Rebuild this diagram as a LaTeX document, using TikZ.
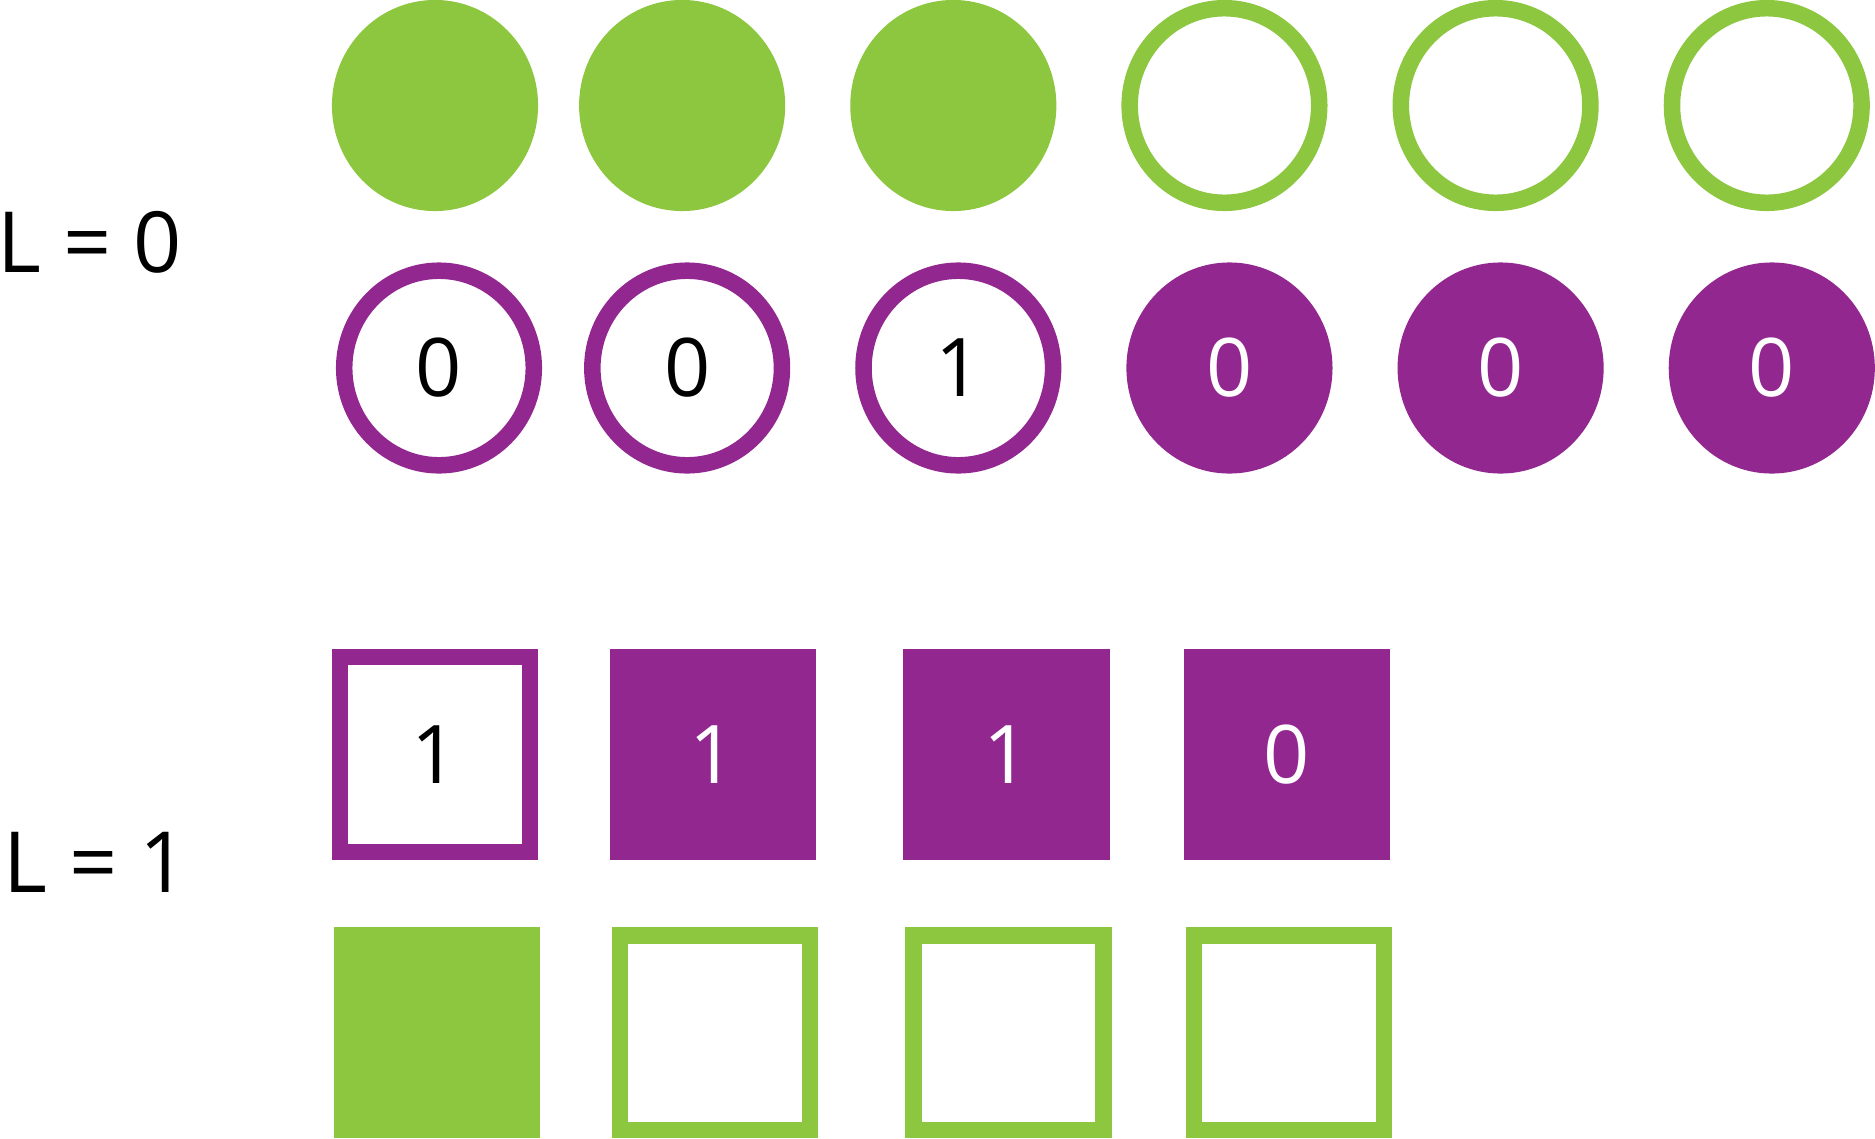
\documentclass[tikz,border=0pt]{standalone}
\usepackage{fontspec}
\setmainfont{Open Sans}
\usepackage{tikz}
\usetikzlibrary{shapes.geometric,positioning}

\definecolor{leafgreen}{HTML}{8DC63F}
\definecolor{plum}{HTML}{92278F}

\tikzset{
  cell/.style={inner sep=0pt, line width=0.165cm, minimum width=1.895cm,
    minimum height=1.945cm, font=\fontsize{23}{28}\selectfont},
  ring/.style={cell, ellipse, draw=#1, fill=white},
  dot/.style={cell, ellipse, draw=#1, fill=#1, text=white},
  box/.style={cell, rectangle, draw=#1, fill=white},
  block/.style={cell, rectangle, draw=#1, fill=#1, text=white},
  level/.style={inner sep=0pt, anchor=west, font=\fontsize{24}{29}\selectfont}
}

\begin{document}
\begin{tikzpicture}[x=0.01cm, y=-0.01cm, node distance=2.71cm]
        \useasboundingbox (0,0) rectangle (1875,1139);

        % L = 0
        \node[level] (l0) at (-3,242) {L = 0};

        \node[dot=leafgreen] (g1) at (435,105.5) {};
        \node[dot=leafgreen, node distance=2.47cm, right of=g1] (g2) {};
        \node[dot=leafgreen, right of=g2] (g3) {};
        \node[ring=leafgreen, right of=g3] (g4) {};
        \node[ring=leafgreen, right of=g4] (g5) {};
        \node[ring=leafgreen, right of=g5] (g6) {};

        \node[ring=plum] (p1) at (439,368) {0};
        \node[ring=plum, node distance=2.48cm, right of=p1] (p2) {0};
        \node[ring=plum, right of=p2] (p3) {1};
        \node[dot=plum, right of=p3] (p4) {0};
        \node[dot=plum, right of=p4] (p5) {0};
        \node[dot=plum, right of=p5] (p6) {0};

        % L = 1
        \node[level] (l1) at (3,862) {L = 1};

        \node[box=plum] (s1) at (435,754.5) {1};
        \node[block=plum] (s2) at (713,754.5) {1};
        \node[block=plum] (s3) at (1006.5,754.5) {1};
        \node[block=plum] (s4) at (1287,754.5) {0};

        \node[block=leafgreen, node distance=2.78cm, below of=s1, xshift=0.02cm] (t1) {};
        \node[box=leafgreen, node distance=2.78cm, below of=s2, xshift=0.02cm] (t2) {};
        \node[box=leafgreen, node distance=2.78cm, below of=s3, xshift=0.02cm] (t3) {};
        \node[box=leafgreen, node distance=2.78cm, below of=s4, xshift=0.02cm] (t4) {};
    \end{tikzpicture}
\end{document}
